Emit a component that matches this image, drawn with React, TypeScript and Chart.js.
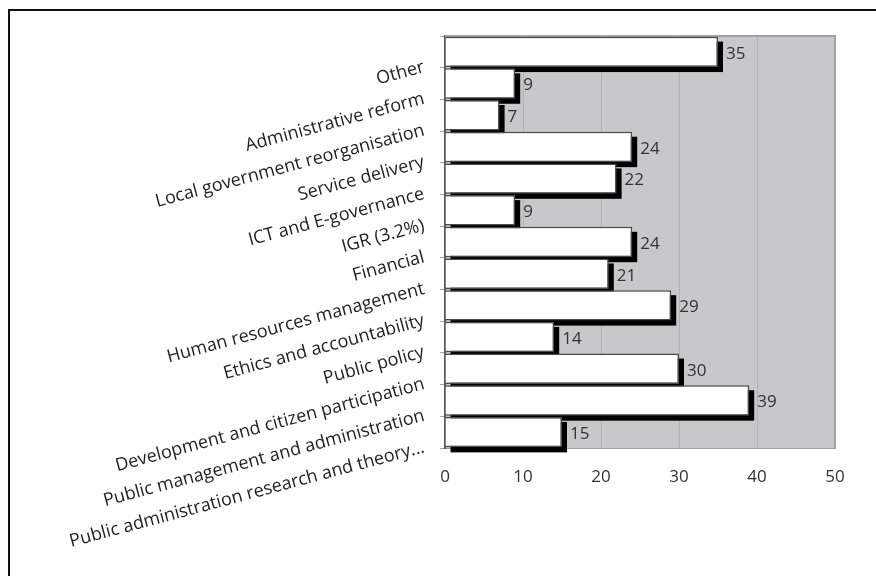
import { useEffect, useRef } from "react";
import { Chart, registerables } from "chart.js";

Chart.register(...registerables);

const categories = [
  "Other",
  "Administrative reform",
  "Local government reorganisation",
  "Service delivery",
  "ICT and E-governance",
  "IGR (3.2%)",
  "Financial",
  "Human resources management",
  "Ethics and accountability",
  "Public policy",
  "Development and citizen participation",
  "Public management and administration",
  "Public administration research and theory...",
];

const values = [35, 9, 7, 24, 22, 9, 24, 21, 29, 14, 30, 39, 15];

const xMin = 0;
const xMax = 50;
const xStep = 10;

const FONT = "'Open Sans', 'DejaVu Sans', sans-serif";
const SHADOW = 5;

const plotPlugin = {
  id: "plotDecor",
  beforeDraw(chart: any) {
    const { ctx, chartArea: a } = chart;
    ctx.save();
    ctx.fillStyle = "#c8c8cc";
    ctx.fillRect(a.left, a.top, a.right - a.left, a.bottom - a.top);
    ctx.restore();
  },
  beforeDatasetsDraw(chart: any) {
    const { ctx, chartArea: a } = chart;
    ctx.save();
    ctx.strokeStyle = "#a2a2a6";
    ctx.lineWidth = 2;
    ctx.beginPath();
    ctx.moveTo(a.left, a.top);
    ctx.lineTo(a.right, a.top);
    ctx.lineTo(a.right, a.bottom);
    ctx.stroke();
    // drop shadows behind each bar
    const meta = chart.getDatasetMeta(0);
    ctx.fillStyle = "#000";
    meta.data.forEach((el: any) => {
      const p = el.getProps(["x", "y", "base", "height"], true);
      const left = Math.min(p.base, p.x);
      const w = Math.abs(p.x - p.base);
      const top = p.y - p.height / 2;
      ctx.fillRect(left + SHADOW, top + SHADOW, w, p.height);
    });
    ctx.restore();
  },
  afterDatasetsDraw(chart: any) {
    const { ctx } = chart;
    const meta = chart.getDatasetMeta(0);
    ctx.save();
    ctx.font = `17px ${FONT}`;
    ctx.fillStyle = "#333";
    ctx.textAlign = "left";
    ctx.textBaseline = "middle";
    meta.data.forEach((el: any, i: number) => {
      ctx.fillText(String(values[i]), el.x + 8, el.y + 2);
    });
    ctx.restore();
  },
};

export default function App() {
  const ref = useRef<HTMLCanvasElement | null>(null);

  useEffect(() => {
    if (!ref.current) return;
    const chart = new Chart(ref.current, {
      type: "bar",
      data: {
        labels: categories,
        datasets: [
          {
            data: values,
            backgroundColor: "#ffffff",
            borderColor: "#4a4a4a",
            borderWidth: 1.5,
            barPercentage: 0.96,
            categoryPercentage: 1,
          },
        ],
      },
      options: {
        indexAxis: "y",
        animation: false,
        responsive: false,
        devicePixelRatio: 1,
        layout: { padding: { left: 0, top: 36, right: 41, bottom: 88 } },
        plugins: {
          legend: { display: false },
          tooltip: { enabled: false },
        },
        scales: {
          x: {
            min: xMin,
            max: xMax,
            ticks: {
              stepSize: xStep,
              color: "#333",
              font: { size: 17, family: FONT },
              padding: 19,
            },
            grid: { color: "#b2b2b6", lineWidth: 1, drawTicks: false },
            border: { display: true, color: "#a2a2a6", width: 1 },
            afterFit: (s: any) => {
              s.height = 40;
            },
          },
          y: {
            ticks: {
              autoSkip: false,
              minRotation: 15,
              maxRotation: 15,
              color: "#1e1e1e",
              font: { size: 18, family: FONT },
              padding: 16,
              labelOffset: 15,
            },
            grid: {
              offset: true,
              drawOnChartArea: false,
              drawTicks: true,
              tickLength: 5,
              color: "#a0a0a0",
            },
            border: { display: true, color: "#5a5a5a", width: 2 },
            afterFit: (s: any) => {
              s.width = 445;
            },
          },
        },
      },
      plugins: [plotPlugin],
    });
    return () => chart.destroy();
  }, []);

  return (
    <div
      style={{
        position: "fixed",
        left: 0,
        top: 0,
        width: 876,
        height: 576,
        overflow: "hidden",
        background: "#fff",
      }}
    >
      <canvas
        ref={ref}
        width={876}
        height={576}
        style={{ position: "absolute", left: 0, top: 0, width: 876, height: 576 }}
      />
      <div
        style={{
          position: "absolute",
          left: 8,
          top: 9,
          width: 2000,
          height: 2000,
          borderTop: "2px solid #111",
          borderLeft: "2px solid #111",
          pointerEvents: "none",
        }}
      />
    </div>
  );
}
